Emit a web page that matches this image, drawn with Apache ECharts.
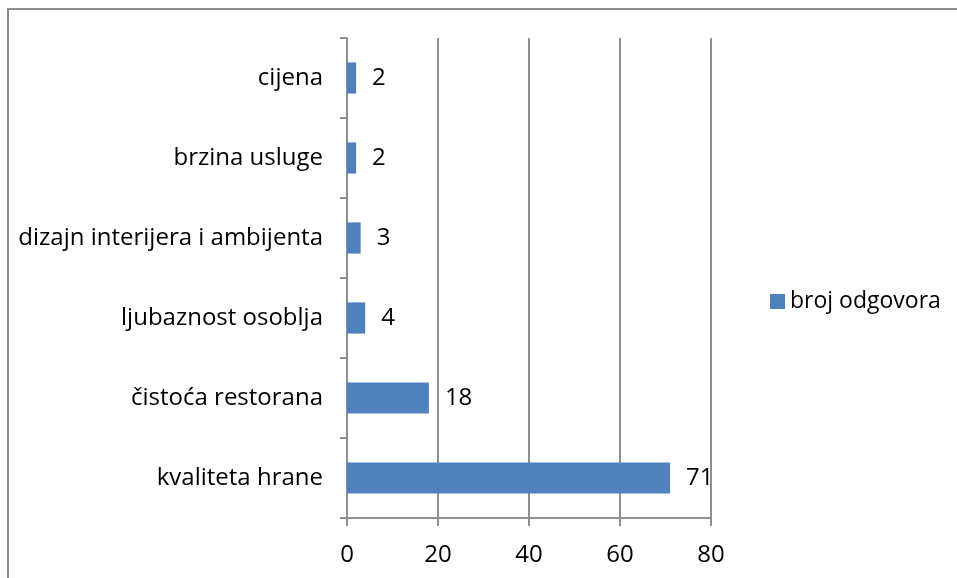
<!DOCTYPE html>
<html>
<head>
<meta charset="utf-8">
<script src="https://cdn.jsdelivr.net/npm/echarts@6/dist/echarts.min.js"></script>
<style>html,body{margin:0;padding:0;background:#fff}#c{width:957px;height:578px}</style>
</head>
<body>
<div id="c"></div>
<script>
const categories = ['kvaliteta hrane', 'čistoća restorana', 'ljubaznost osoblja', 'dizajn interijera i ambijenta', 'brzina usluge', 'cijena'];
const values = [71, 18, 4, 3, 2, 2];
const seriesName = 'broj odgovora';
const xTicks = [0, 20, 40, 60, 80];

const FONT = 'Open Sans';
const FS = 24;
const GRAY = '#8f8f8f';
const chart = echarts.init(document.getElementById('c'), null, {renderer: 'canvas'});
chart.setOption({
  animation: false,
  textStyle: {fontFamily: FONT},
  graphic: [{
    type: 'rect', shape: {x: 8, y: 9, width: 1000, height: 1000},
    style: {fill: 'none', stroke: '#8c8c8c', lineWidth: 2}, silent: true
  }],
  grid: {left: 347, right: 246, top: 38, bottom: 60, containLabel: false},
  legend: {
    data: [seriesName], orient: 'vertical', left: 765, top: 285,
    itemWidth: 15, itemHeight: 15, itemGap: 5, icon: 'rect',
    textStyle: {fontFamily: FONT, fontSize: 23, color: '#000'}
  },
  xAxis: {
    type: 'value', min: xTicks[0], max: xTicks[xTicks.length - 1], interval: 20,
    axisLine: {show: true, lineStyle: {color: GRAY, width: 2}},
    axisTick: {show: true, length: 8, lineStyle: {color: GRAY, width: 2}},
    splitLine: {show: true, lineStyle: {color: GRAY, width: 2}},
    axisLabel: {fontFamily: FONT, fontSize: FS, color: '#000', margin: 25}
  },
  yAxis: {
    type: 'category', data: categories,
    axisLine: {show: true, lineStyle: {color: GRAY, width: 2}},
    axisTick: {show: true, length: 7, alignWithLabel: false, lineStyle: {color: GRAY, width: 2}},
    axisLabel: {fontFamily: FONT, fontSize: FS, color: '#000', margin: 24}
  },
  series: [{
    name: seriesName, type: 'bar', data: values, barWidth: '39%',
    itemStyle: {color: '#4F81BD'},
    label: {show: true, position: 'right', distance: 16, fontFamily: FONT, fontSize: FS, color: '#000'}
  }]
});
</script>
</body>
</html>
